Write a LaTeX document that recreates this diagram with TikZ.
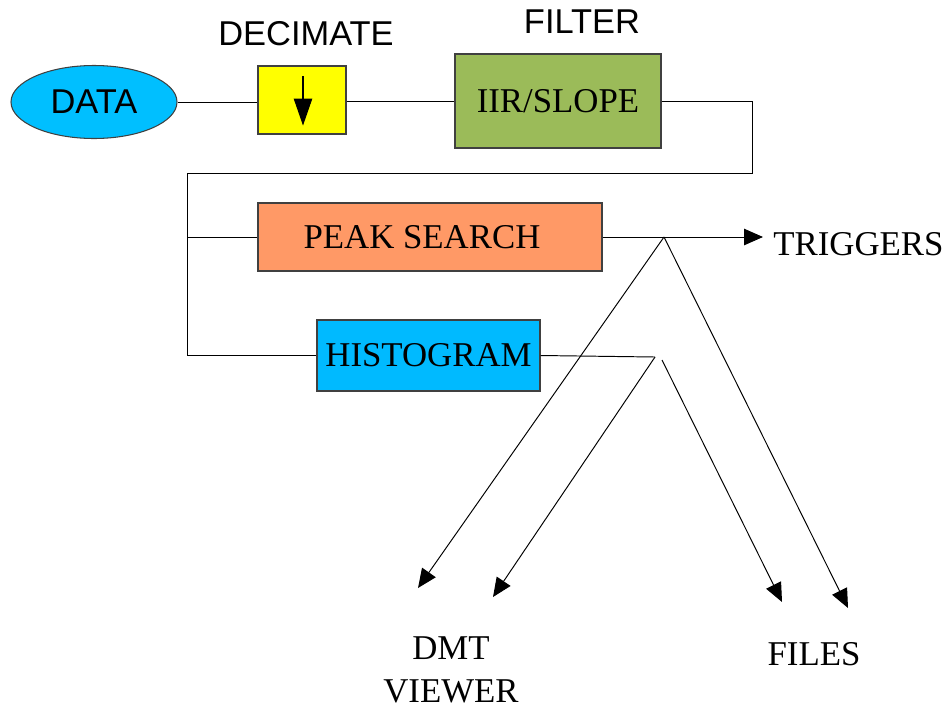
\documentclass[tikz,border=0pt]{standalone}
\usepackage{fontspec}
\setmainfont{Liberation Serif}
\newfontfamily\arialf{Liberation Sans}
\usetikzlibrary{arrows.meta,shapes.geometric,calc}
\definecolor{cdata}{RGB}{0,191,255}
\definecolor{chist}{RGB}{0,186,255}
\definecolor{cfilt}{RGB}{155,187,89}
\definecolor{cpeak}{RGB}{255,153,102}
\definecolor{cdec}{RGB}{255,255,0}
\begin{document}
\begin{tikzpicture}[x=0.2mm,y=-0.2mm,
  box/.style={draw=black!75, line width=0.6pt, inner sep=0pt},
  lbl/.style={font=\fontsize{19.8}{24.4}\selectfont, inner sep=0pt},
  sanslbl/.style={font=\arialf\fontsize{19.6}{24}\selectfont, inner sep=0pt},
  wire/.style={line width=0.55pt},
  arr/.style={wire, -{Triangle[length=3.8mm,width=3.3mm]}}]
\useasboundingbox (0,0) rectangle (950,708);

% nodes
\node[ellipse, box, fill=cdata, minimum width=166*0.2mm, minimum height=73*0.2mm, sanslbl] (data) at (94,102) {DATA};
\node[box, fill=cdec, minimum width=88*0.2mm, minimum height=68*0.2mm] (dec) at (302,100) {};
\node[sanslbl, anchor=base] (declbl) at (306,45) {DECIMATE};
\node[box, fill=cfilt, minimum width=206*0.2mm, minimum height=94*0.2mm, lbl] (filt) at (558,101) {IIR/SLOPE};
\node[sanslbl, anchor=base] (filtlbl) at (582,33) {FILTER};
\node[box, fill=cpeak, minimum width=344*0.2mm, minimum height=68*0.2mm, lbl] (peak) at (430,237) {\hspace*{-3.2mm}PEAK SEARCH};
\node[box, fill=chist, minimum width=223*0.2mm, minimum height=71*0.2mm, lbl] (hist) at (428.5,355.5) {HISTOGRAM};
\node[lbl, anchor=base west] (trig) at (773,255) {TRIGGERS};
\node[lbl, anchor=base] (files) at (814,665) {FILES};
\node[lbl, anchor=base, align=center] (dmt) at (451,702) {DMT\\VIEWER};

% decimate glyph
\draw[line width=0.6pt, -{Triangle[length=5.4mm,width=3.7mm]}] ($(dec.north)+(1,11)$) -- ($(dec.south)+(1,-9)$);

% junction coordinates
\coordinate (c1) at (752,173);
\coordinate (c2) at (187,173);
\coordinate (ap1) at (664,237);
\coordinate (ap2) at (655,357);
\coordinate (ap3) at (662,360);
\coordinate (d1) at (418,588);
\coordinate (d2) at (493,597);
\coordinate (f1) at (782,602);
\coordinate (f2) at (848,608);

% connectors
\draw[wire] (data.east) -- (data.east -| dec.west);
\draw[wire] ($(dec.east)+(0,1)$) -- ($(dec.east -| filt.west)+(0,1)$);
\draw[wire] (filt.east) -| (c1) -- (c2) |- (hist.west);
\draw[wire] (c2 |- peak.west) -- (peak.west);
\draw[arr, shorten >=2mm] (peak.east) -- (peak.east -| trig.west);
\draw[wire] (hist.east) -- (ap2);
\draw[arr] (ap1) -- (d1);
\draw[arr] (ap1) -- (f2);
\draw[arr] (ap2) -- (d2);
\draw[arr] (ap3) -- (f1);
\end{tikzpicture}
\end{document}
